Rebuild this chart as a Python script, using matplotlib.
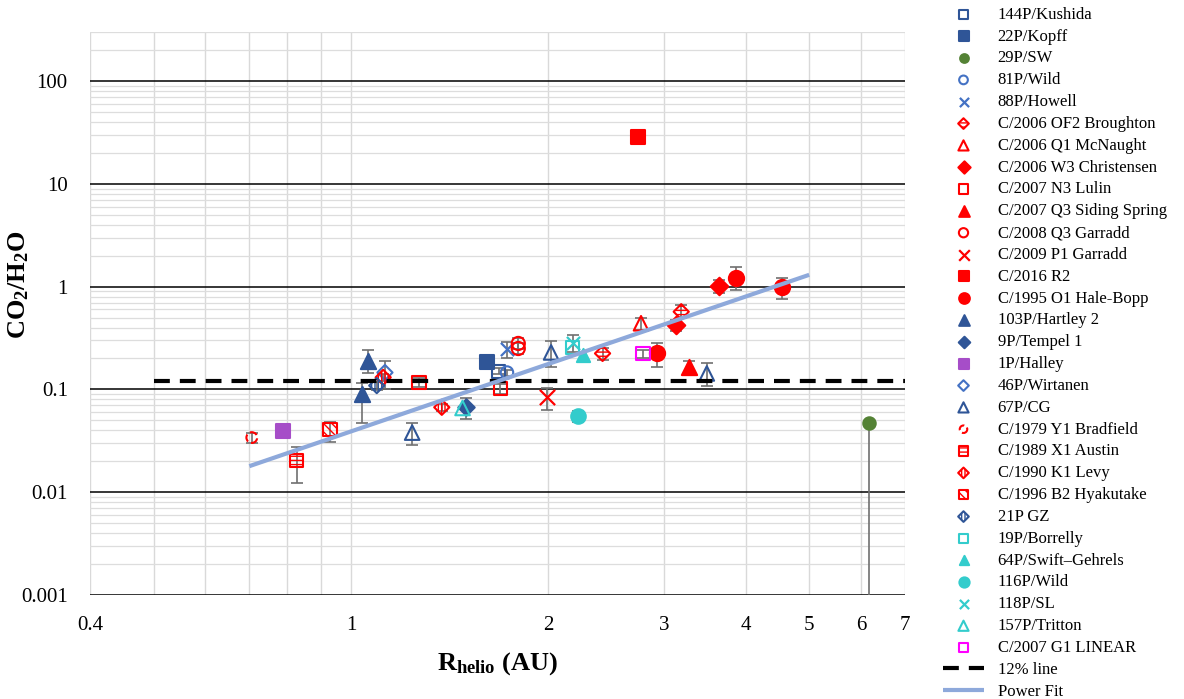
import matplotlib
matplotlib.use('Agg')
import matplotlib.pyplot as plt
import matplotlib.ticker as mticker
import numpy as np

plt.rcParams['font.family'] = ['Liberation Serif', 'DejaVu Serif']
plt.rcParams['mathtext.fontset'] = 'custom'
plt.rcParams['mathtext.rm'] = 'Liberation Serif'
plt.rcParams['mathtext.bf'] = 'Liberation Serif:bold'
plt.rcParams['mathtext.it'] = 'Liberation Serif:italic'
plt.rcParams['hatch.linewidth'] = 1.0

# --- data (R_helio in AU, CO2/H2O ratio, lower/upper errors)
comets = ['144P/Kushida', '22P/Kopff', '29P/SW', '81P/Wild', '88P/Howell',
          'C/2006 OF2 Broughton', 'C/2006 Q1 McNaught', 'C/2006 W3 Christensen',
          'C/2007 N3 Lulin', 'C/2007 Q3 Siding Spring', 'C/2008 Q3 Garradd',
          'C/2009 P1 Garradd', 'C/2016 R2', 'C/1995 O1 Hale-Bopp', '103P/Hartley 2',
          '9P/Tempel 1', '1P/Halley', '46P/Wirtanen', '67P/CG', 'C/1979 Y1 Bradfield',
          'C/1989 X1 Austin', 'C/1990 K1 Levy', 'C/1996 B2 Hyakutake', '21P GZ',
          '19P/Borrelly', '64P/Swift\u2013Gehrels', '116P/Wild', '118P/SL',
          '157P/Tritton', 'C/2007 G1 LINEAR']

r_helio = [[1.68], [1.61], [6.16], [1.73], [1.73],
           [2.42, 3.19], [2.77], [3.13, 3.64],
           [1.27, 1.69], [3.28], [1.80, 1.80],
           [1.99], [2.74], [2.93, 3.86, 4.55], [1.06, 1.04],
           [1.50], [0.787], [1.127], [1.24, 2.02, 3.49], [0.706],
           [0.827], [1.12, 1.376], [0.929], [1.095],
           [2.18], [2.26], [2.22], [2.18],
           [1.48], [2.79]]

ratio = [[0.15], [0.183], [0.047], [0.146], [0.25],
         [0.224, 0.57], [0.44], [0.42, 1.02],
         [0.117, 0.102], [0.167], [0.28, 0.25],
         [0.084], [28.6], [0.224, 1.22, 1.0], [0.19, 0.091],
         [0.067], [0.039], [0.146], [0.038, 0.229, 0.143], [0.034],
         [0.0205], [0.131, 0.067], [0.041], [0.109],
         [0.256], [0.214], [0.055], [0.28],
         [0.066], [0.224]]

err_lo = [[0.01], [0], [0.0469], [0.01], [0.05],
          [0.03, 0.07], [0.06], [0.05, 0.15],
          [0.012, 0.012], [0.02], [0.035, 0.03],
          [0.021], [0], [0.06, 0.3, 0.25], [0.045, 0.044],
          [0.015], [0], [0.045], [0.009, 0.065, 0.034], [0.004],
          [0.0083], [0.01, 0.005], [0.01], [0.01],
          [0], [0], [0.007], [0.05],
          [0], [0.02]]

err_hi = [[0.01], [0], [0], [0.01], [0.04],
          [0.03, 0.1], [0.06], [0.05, 0.15],
          [0.012, 0.012], [0.02], [0.035, 0.03],
          [0.02], [0], [0.06, 0.33, 0.22], [0.05, 0.025],
          [0.015], [0], [0.045], [0.009, 0.065, 0.036], [0.004],
          [0.007], [0.01, 0.005], [0.007], [0.01],
          [0], [0], [0.007], [0.055],
          [0], [0.02]]

# power fit y = a * x^b
fit_a, fit_b = 0.039, 2.18
fit_range = [0.7, 5.0]
line_12 = 0.12
line_12_range = [0.5, 7.0]

# --- marker styles: (marker, edge colour, face colour, hatch, size, linestyle)
DB, LB, RD = '#2F5597', '#4472C4', '#FF0000'
CY = '#33CCCC'
styles = [
    ('s', DB, 'none', None, 80, '-'),
    ('s', DB, DB, None, 90, '-'),
    ('o', '#548235', '#548235', None, 80, '-'),
    ('o', LB, 'none', None, 80, '-'),
    ('x', LB, LB, None, 90, '-'),
    ('D', RD, 'none', '----', 60, '-'),
    ('^', RD, 'none', None, 110, '-'),
    ('D', RD, RD, None, 80, '-'),
    ('s', RD, 'none', None, 90, '-'),
    ('^', RD, RD, None, 120, '-'),
    ('o', RD, 'none', None, 90, '-'),
    ('x', RD, RD, None, 120, '-'),
    ('s', RD, RD, None, 90, '-'),
    ('o', RD, RD, None, 120, '-'),
    ('^', DB, DB, None, 120, '-'),
    ('D', DB, DB, None, 70, '-'),
    ('s', '#A64DC8', '#A64DC8', None, 90, '-'),
    ('D', LB, 'none', None, 60, '-'),
    ('^', DB, 'none', None, 110, '-'),
    ('o', RD, 'none', None, 60, '--'),
    ('s', RD, 'none', '----', 90, '-'),
    ('D', RD, 'none', '|||||', 60, '-'),
    ('s', RD, 'none', '\\\\\\\\', 90, '-'),
    ('D', DB, 'none', '|||||', 60, '-'),
    ('s', CY, 'none', None, 90, '-'),
    ('^', CY, CY, None, 90, '-'),
    ('o', CY, CY, None, 110, '-'),
    ('x', CY, CY, None, 90, '-'),
    ('^', CY, 'none', None, 110, '-'),
    ('s', '#FF00FF', 'none', None, 90, '-'),
]

fig = plt.figure(figsize=(11.84, 6.99), dpi=100)
ax = fig.add_axes([90 / 1184, 1 - 595 / 699, 815 / 1184, 563 / 699])

handles = []
for name, xs, ys, lo, hi, st in zip(comets, r_helio, ratio, err_lo, err_hi, styles):
    mk, ec, fc, hatch, size, ls = st
    if any(v > 0 for v in lo + hi):
        ax.errorbar(xs, ys, yerr=[lo, hi], fmt='none', ecolor='#707070',
                    elinewidth=1.2, capsize=4, capthick=1.2, zorder=2)
    with plt.rc_context({'hatch.color': ec}):
        kw = dict(marker=mk, s=size, zorder=3, label=name)
        if mk == 'x':
            sc = ax.scatter(xs, ys, c=ec, linewidths=1.6, **kw)
        else:
            sc = ax.scatter(xs, ys, facecolors=fc, edgecolors=ec, hatch=hatch,
                            linewidths=1.5, linestyles=ls, **kw)
    handles.append(sc)

h12, = ax.plot(line_12_range, [line_12, line_12], color='black', lw=3,
               dashes=(3.8, 2.4), zorder=4, label='12% line')
fx = np.array(fit_range)
hfit, = ax.plot(fx, fit_a * fx ** fit_b, color='#8EA9DB', lw=3, zorder=4,
                label='Power Fit', solid_capstyle='butt')
handles += [h12, hfit]

ax.set_xscale('log')
ax.set_yscale('log')
ax.set_xlim(0.4, 7)
ax.set_ylim(0.001, 300)

xt = [0.4, 1, 2, 3, 4, 5, 6, 7]
ax.xaxis.set_major_locator(mticker.FixedLocator(xt))
ax.xaxis.set_major_formatter(mticker.FixedFormatter(['0.4', '1', '2', '3', '4', '5', '6', '7']))
ax.xaxis.set_minor_locator(mticker.FixedLocator([0.5, 0.6, 0.7, 0.8, 0.9]))
ax.xaxis.set_minor_formatter(mticker.NullFormatter())
yt = [0.001, 0.01, 0.1, 1, 10, 100]
ax.yaxis.set_major_locator(mticker.FixedLocator(yt))
ax.yaxis.set_major_formatter(mticker.FixedFormatter(['0.001', '0.01', '0.1', '1', '10', '100']))
ax.yaxis.set_minor_locator(mticker.LogLocator(base=10, subs=np.arange(2, 10), numticks=20))
ax.yaxis.set_minor_formatter(mticker.NullFormatter())

ax.grid(axis='x', which='both', color='#D9D9D9', lw=1, zorder=0)
ax.grid(axis='y', which='major', color='black', lw=1.1, zorder=0)
ax.grid(axis='y', which='minor', color='#DDDDDD', lw=0.9, zorder=0)
ax.set_axisbelow(True)
for s in ax.spines.values():
    s.set_visible(False)
ax.tick_params(which='both', length=0, labelsize=15)
ax.tick_params(axis='y', pad=16)
ax.tick_params(axis='x', pad=15)

ax.set_ylabel(r'$\mathbf{CO_2/H_2O}$', fontsize=19)
ax.yaxis.set_label_coords(-0.073, 0.551)
ax.set_xlabel(r'$\mathbf{R_{helio}}$ (AU)', fontsize=19, fontweight='bold')
ax.xaxis.set_label_coords(0.5, -0.098)

fig.legend(handles=handles, loc='upper left', bbox_to_anchor=(931 / 1184, 1.007),
           frameon=False, fontsize=12, scatterpoints=1, markerscale=0.7,
           handlelength=2.5, handletextpad=0.8, labelspacing=0.35, borderpad=0.2)

fig.savefig('out.png', dpi=100)
